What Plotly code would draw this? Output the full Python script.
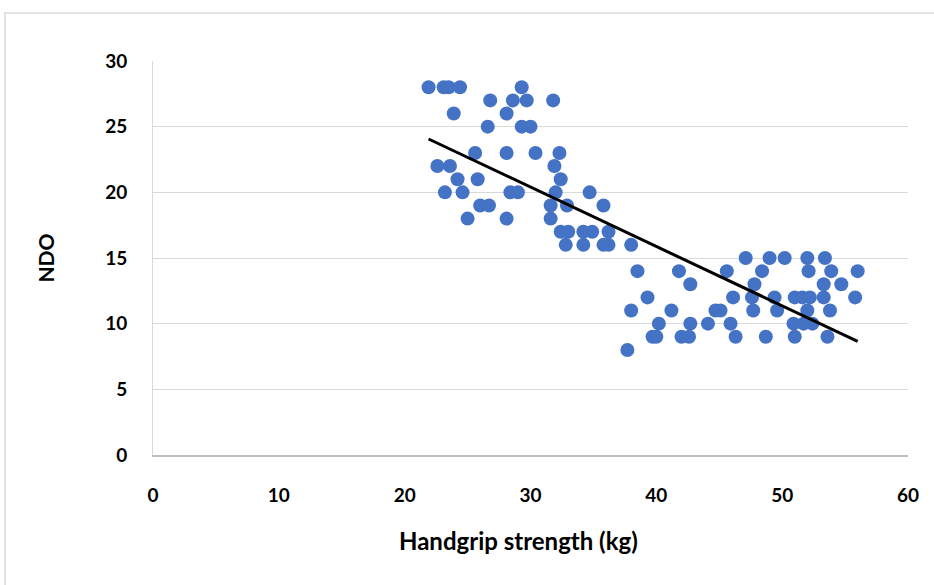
import numpy as np
import plotly.graph_objects as go

# Data (x: handgrip strength kg, y: NDO)
ndo_28 = [21.9, 23.1, 23.5, 24.4, 29.3]
ndo_27 = [26.8, 28.6, 29.7, 31.8]
ndo_26 = [23.9, 28.1]
ndo_25 = [26.6, 29.3, 30.0]
ndo_23 = [25.6, 28.1, 30.4, 32.3]
ndo_22 = [22.6, 23.6, 31.9]
ndo_21 = [24.2, 25.8, 32.4]
ndo_20 = [23.2, 24.6, 28.4, 29.0, 32.0, 34.7]
ndo_19 = [26.0, 26.7, 31.6, 32.9, 35.8]
ndo_18 = [25.0, 28.1, 31.6]
ndo_17 = [32.4, 33.0, 34.2, 34.9, 36.2]
ndo_16 = [32.8, 34.2, 35.8, 36.2, 38.0]
ndo_15 = [47.1, 49.0, 50.2, 52.0, 53.4]
ndo_14 = [38.5, 41.8, 45.6, 48.4, 52.1, 53.9, 56.0]
ndo_13 = [42.7, 47.8, 53.3, 54.7]
ndo_12 = [39.3, 46.1, 47.6, 49.4, 51.0, 51.6, 52.2, 53.3, 55.8]
ndo_11 = [38.0, 41.2, 44.7, 45.1, 47.7, 49.6, 52.0, 53.8]
ndo_10 = [40.2, 42.7, 44.1, 45.9, 50.9, 51.7, 52.4]
ndo_9 = [39.7, 40.0, 42.0, 42.6, 46.3, 48.7, 51.0, 53.6]
ndo_8 = [37.7]

groups = {28: ndo_28, 27: ndo_27, 26: ndo_26, 25: ndo_25, 23: ndo_23, 22: ndo_22,
          21: ndo_21, 20: ndo_20, 19: ndo_19, 18: ndo_18, 17: ndo_17, 16: ndo_16,
          15: ndo_15, 14: ndo_14, 13: ndo_13, 12: ndo_12, 11: ndo_11, 10: ndo_10,
          9: ndo_9, 8: ndo_8}

x_title = "Handgrip strength (kg)"
y_title = "NDO"

x_vals = []
y_vals = []
for yv, xs in groups.items():
    for xv in xs:
        x_vals.append(xv)
        y_vals.append(yv)
x_arr = np.array(x_vals)
y_arr = np.array(y_vals)

slope, intercept = np.polyfit(x_arr, y_arr, 1)
tx = np.array([x_arr.min(), x_arr.max()])
ty = slope * tx + intercept

x_ticks = [0, 10, 20, 30, 40, 50, 60]
y_ticks = [0, 5, 10, 15, 20, 25, 30]

fig = go.Figure()
fig.add_trace(go.Scatter(x=x_arr, y=y_arr, mode="markers",
                         marker=dict(color="#4472C4", size=14, line=dict(width=0)),
                         showlegend=False, hoverinfo="x+y"))
fig.add_trace(go.Scatter(x=tx, y=ty, mode="lines",
                         line=dict(color="black", width=3),
                         showlegend=False, hoverinfo="skip"))

font_family = "Lato, 'Open Sans', Arial, sans-serif"
fig.update_layout(
    width=934, height=585,
    margin=dict(l=153, r=26, t=61, b=130),
    paper_bgcolor="white", plot_bgcolor="white",
    font=dict(family=font_family, color="#000000"),
    xaxis=dict(range=[0, 60], tickvals=x_ticks, showgrid=False, zeroline=False,
               showline=True, linecolor="#bfbfbf", linewidth=1.5,
               tickfont=dict(size=19, family=font_family, weight="bold"),
               ticks="", ticklabelstandoff=22),
    yaxis=dict(range=[0, 30], tickvals=y_ticks, showgrid=True, gridcolor="#d9d9d9", gridwidth=1,
               zeroline=False, showline=True, linecolor="#d9d9d9", linewidth=1,
               tickfont=dict(size=19, family=font_family, weight="bold"),
               ticks="", ticklabelstandoff=21,
               title=dict(text="<b>" + y_title + "</b>", font=dict(size=21), standoff=44)),
    annotations=[dict(text="<b>" + x_title + "</b>", xref="paper", yref="paper",
                      x=0.484, y=-0.216, xanchor="center", yanchor="middle",
                      showarrow=False, font=dict(size=24, family=font_family, color="#000000"))],
    shapes=[dict(type="rect", xref="paper", yref="paper",
                 x0=-0.196, x1=1.2, y0=-0.6, y1=1.122,
                 line=dict(color="#d9d9d9", width=1.5), fillcolor="rgba(0,0,0,0)", layer="below")],
)

fig.write_html("out.html", config={"displayModeBar": False},
               post_script="document.body.style.margin='0';")
